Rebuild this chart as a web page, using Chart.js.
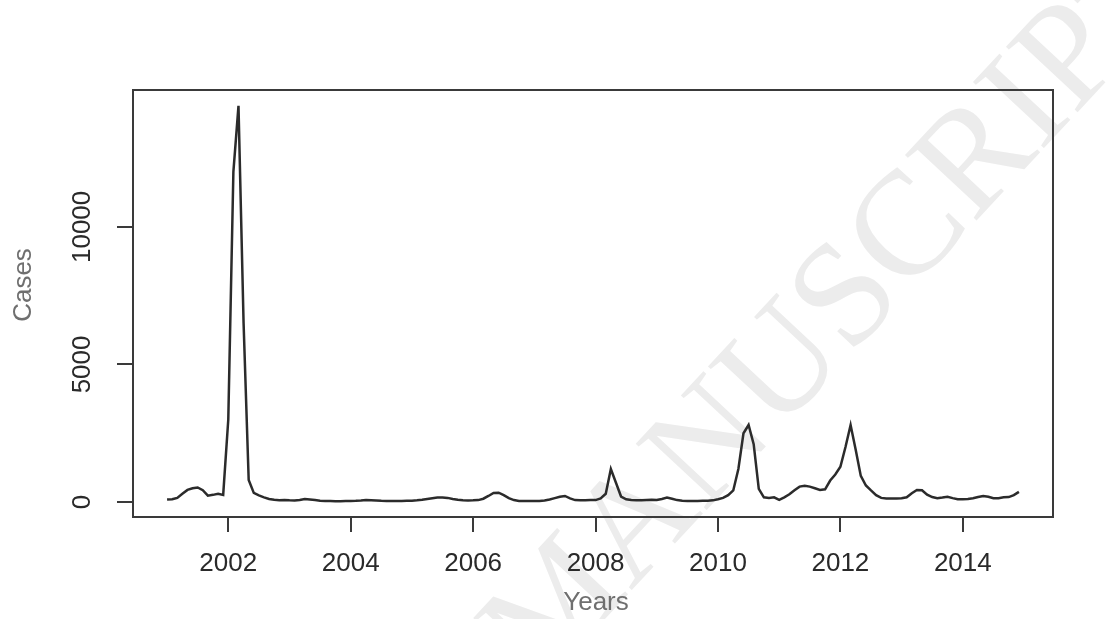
<!DOCTYPE html>
<html>
<head>
<meta charset="utf-8">
<script src="https://cdn.jsdelivr.net/npm/chart.js@4.4.1/dist/chart.umd.min.js"></script>
<style>
  html, body { margin: 0; padding: 0; background: #ffffff; }
  #wrap { width: 1115px; height: 619px; position: relative; }
</style>
</head>
<body>
<div id="wrap"><canvas id="c" width="1115" height="619"></canvas></div>
<script>
// Monthly reported cases, January to December of each year
const startYear = 2001;
const cases2001 = [90, 100, 150, 300, 440, 500, 530, 430, 230, 260, 300, 260];
const cases2002 = [3000, 12000, 14400, 6500, 800, 330, 240, 170, 110, 80, 60, 70];
const cases2003 = [60, 55, 70, 110, 90, 70, 50, 40, 35, 30, 30, 35];
const cases2004 = [40, 45, 55, 70, 65, 55, 45, 40, 40, 35, 40, 45];
const cases2005 = [50, 60, 80, 110, 140, 160, 165, 150, 110, 80, 60, 55];
const cases2006 = [60, 70, 120, 220, 330, 340, 250, 140, 70, 40, 35, 35];
const cases2007 = [35, 40, 55, 90, 140, 190, 220, 130, 70, 60, 60, 70];
const cases2008 = [70, 130, 300, 1200, 700, 200, 100, 70, 60, 60, 70, 80];
const cases2009 = [70, 110, 160, 120, 70, 50, 40, 40, 40, 45, 50, 60];
const cases2010 = [100, 150, 250, 420, 1200, 2500, 2800, 2100, 480, 170, 150, 170];
const cases2011 = [80, 170, 280, 430, 560, 590, 560, 500, 440, 460, 780, 1000];
const cases2012 = [1280, 2000, 2800, 1900, 950, 600, 420, 250, 150, 130, 130, 130];
const cases2013 = [140, 170, 320, 440, 430, 270, 180, 140, 160, 190, 140, 100];
const cases2014 = [100, 110, 140, 180, 220, 190, 140, 140, 170, 180, 250, 370];

const yearTicks = [2002, 2004, 2006, 2008, 2010, 2012, 2014];
const caseTicks = [0, 5000, 10000];
const xTitle = 'Years';
const yTitle = 'Cases';
const watermarkText = 'MANUSCRIPT';

// Assemble the monthly series as (decimal year, cases) points
const yearly = [cases2001, cases2002, cases2003, cases2004, cases2005, cases2006, cases2007,
                cases2008, cases2009, cases2010, cases2011, cases2012, cases2013, cases2014];
const points = [];
yearly.forEach((arr, i) => {
  arr.forEach((v, m) => points.push({ x: startYear + i + m / 12, y: v }));
});

// Axis limits padded by 4% on each side, like base R plots
const xs = points.map(p => p.x), ys = points.map(p => p.y);
const xLo = Math.min(...xs), xHi = Math.max(...xs);
const yLo = Math.min(...ys), yHi = Math.max(...ys);
const xPad = (xHi - xLo) * 0.04, yPad = (yHi - yLo) * 0.04;

const FONT = '"Liberation Sans", Arial, Helvetica, sans-serif';

const decorations = {
  id: 'decorations',
  beforeDraw(chart) {
    const ctx = chart.ctx;
    ctx.save();
    ctx.fillStyle = '#ffffff';
    ctx.fillRect(0, 0, chart.width, chart.height);
    // faint diagonal watermark
    ctx.translate(838, 312);
    ctx.rotate(-47 * Math.PI / 180);
    ctx.font = '148px "Liberation Serif", "Times New Roman", serif';
    ctx.fillStyle = '#ececec';
    ctx.textAlign = 'center';
    ctx.textBaseline = 'middle';
    ctx.fillText(watermarkText, 0, 0);
    ctx.restore();
  },
  afterDraw(chart) {
    const ctx = chart.ctx;
    const a = chart.chartArea;
    const ys = chart.scales.y;
    ctx.save();
    // plot frame
    ctx.strokeStyle = '#3a3a3a';
    ctx.lineWidth = 2;
    ctx.strokeRect(a.left, a.top, a.right - a.left, a.bottom - a.top);
    // y tick labels, parallel to the axis
    ctx.fillStyle = '#2a2a2a';
    ctx.font = '26px ' + FONT;
    ctx.textAlign = 'center';
    ctx.textBaseline = 'middle';
    caseTicks.forEach(v => {
      const py = ys.getPixelForValue(v);
      ctx.save();
      ctx.translate(83, py);
      ctx.rotate(-Math.PI / 2);
      ctx.fillText(String(v), 0, 0);
      ctx.restore();
    });
    // axis titles
    ctx.fillStyle = '#6f6f6f';
    ctx.save();
    ctx.translate(24, 285);
    ctx.rotate(-Math.PI / 2);
    ctx.fillText(yTitle, 0, 0);
    ctx.restore();
    ctx.fillText(xTitle, 596, 603);
    ctx.restore();
  }
};

new Chart(document.getElementById('c'), {
  type: 'line',
  data: {
    datasets: [{
      data: points,
      borderColor: '#2b2b2b',
      borderWidth: 2.5,
      pointRadius: 0,
      tension: 0,
      fill: false
    }]
  },
  options: {
    responsive: false,
    animation: false,
    devicePixelRatio: 1,
    layout: { padding: { top: 90, right: 62, left: 0, bottom: 0 } },
    plugins: { legend: { display: false }, tooltip: { enabled: false } },
    scales: {
      x: {
        type: 'linear',
        min: xLo - xPad,
        max: xHi + xPad,
        afterBuildTicks: s => { s.ticks = yearTicks.map(v => ({ value: v })); },
        afterFit: s => { s.height = 102; },
        grid: { drawOnChartArea: false, drawTicks: true, tickLength: 15, color: '#3a3a3a', lineWidth: 2 },
        border: { display: false },
        ticks: {
          color: '#2a2a2a',
          font: { family: FONT, size: 26 },
          padding: 16,
          maxRotation: 0,
          minRotation: 0,
          callback: v => String(v)
        }
      },
      y: {
        type: 'linear',
        min: yLo - yPad,
        max: yHi + yPad,
        afterBuildTicks: s => { s.ticks = caseTicks.map(v => ({ value: v })); },
        afterFit: s => { s.width = 133; },
        grid: { drawOnChartArea: false, drawTicks: true, tickLength: 16, color: '#3a3a3a', lineWidth: 2 },
        border: { display: false },
        ticks: { display: false }
      }
    }
  },
  plugins: [decorations]
});
</script>
</body>
</html>
